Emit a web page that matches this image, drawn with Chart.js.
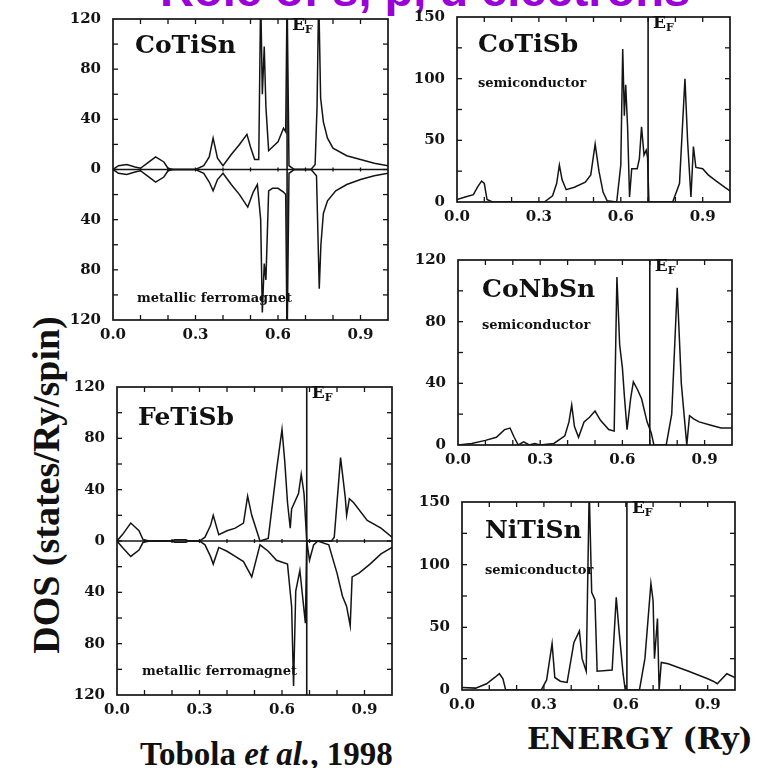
<!DOCTYPE html>
<html><head><meta charset="utf-8">
<script src="https://cdn.jsdelivr.net/npm/chart.js@4"></script>
<style>
html,body{margin:0;padding:0;background:#fff;width:757px;height:768px;overflow:hidden;position:relative}
.panel{position:absolute}
.t{position:absolute;white-space:nowrap;line-height:1;color:#111}
.name{font:bold 25px "DejaVu Serif"}
.small{font:bold 13px "DejaVu Serif"}
.ef{font:bold 17px "DejaVu Serif"}
.ef sub{font-size:11px;vertical-align:-3px}
#title{position:absolute;left:160px;top:-33px;font:bold 47px "Liberation Sans";color:#9a00d8;white-space:nowrap;line-height:46px}
#ytitle{position:absolute;left:-156px;top:465px;width:400px;height:40px;line-height:40px;text-align:center;font:bold 38px "Liberation Serif";color:#111;transform:rotate(-90deg);white-space:nowrap}
#tobola{position:absolute;left:140px;top:738px;font:bold 33px "Liberation Serif";color:#111;line-height:1;white-space:nowrap}
#energy{position:absolute;left:527px;top:724px;font:bold 30px "DejaVu Serif";color:#111;line-height:1;white-space:nowrap}
</style></head><body>
<div id="title">Role of s, p, d electrons</div>
<div id="ytitle">DOS (states/Ry/spin)</div>
<div id="tobola">Tobola <i>et al.</i>, 1998</div>
<div id="energy">ENERGY (Ry)</div>
<script>
// ---- tick labels ----
const xTickValues = [0, 0.3, 0.6, 0.9];
const xTickLabels = ['0.0', '0.3', '0.6', '0.9'];
const yTicksSpin = [-120, -80, -40, 0, 40, 80, 120];
const yTicks120 = [0, 40, 80, 120];
const yTicks150 = [0, 50, 100, 150];

// ---- Fermi energies (Ry) ----
const efCoTiSn = 0.633;
const efFeTiSb = 0.69;
const efCoTiSb = 0.70;
const efCoNbSn = 0.70;
const efNiTiSn = 0.604;

// ---- CoTiSn (spin up / spin down) ----
const coTiSnUpE = [0,0.02,0.05,0.08,0.10,0.125,0.155,0.185,0.20,0.22,0.30,0.33,0.35,0.364,0.38,0.40,0.43,0.46,0.487,0.50,0.515,0.53,0.537,0.543,0.55,0.556,0.566,0.58,0.60,0.62,0.628,0.633,0.64,0.66,0.72,0.735,0.742,0.748,0.755,0.765,0.78,0.80,0.85,0.90,0.95,1.0];
const coTiSnUpDos = [0,3,4,2,1,5,10,6,1,0,0,3,10,25,9,3,12,20,28,18,8,8,140,60,98,50,15,18,22,33,30,140,3,0,0,4,50,140,57,38,25,17,11,8,5,3];
const coTiSnDnE = [0,0.02,0.05,0.08,0.10,0.125,0.155,0.185,0.20,0.22,0.30,0.33,0.35,0.364,0.38,0.40,0.43,0.46,0.49,0.51,0.525,0.537,0.543,0.55,0.556,0.566,0.58,0.60,0.62,0.628,0.633,0.64,0.66,0.72,0.74,0.75,0.756,0.765,0.78,0.81,0.85,0.90,0.95,1.0];
const coTiSnDnDos = [0,-3,-4,-2,-1,-5,-10,-6,-1,0,0,-3,-10,-17,-8,-3,-12,-20,-30,-18,-12,-40,-114,-75,-88,-17,-15,-15,-18,-20,-140,-3,0,0,-5,-95,-60,-35,-25,-17,-12,-8,-5,-3];

// ---- FeTiSb (spin up / spin down) ----
const feTiSbUpE = [0,0.02,0.05,0.08,0.095,0.12,0.20,0.21,0.25,0.26,0.30,0.32,0.34,0.35,0.37,0.40,0.43,0.46,0.475,0.49,0.52,0.55,0.58,0.60,0.61,0.62,0.63,0.635,0.66,0.67,0.68,0.69,0.78,0.79,0.813,0.83,0.835,0.845,0.86,0.91,0.96,1.0];
const feTiSbUpDos = [0,5,14,8,1,0,0,1,1,0,0,3,12,20,5,8,10,14,35,20,0,2,55,87,62,30,10,25,37,52,37,0,0,3,65,34,20,33,30,16,10,3];
const feTiSbDnE = [0,0.02,0.05,0.08,0.095,0.12,0.20,0.21,0.25,0.26,0.30,0.32,0.34,0.35,0.37,0.40,0.43,0.46,0.49,0.52,0.55,0.58,0.62,0.635,0.642,0.65,0.665,0.685,0.69,0.70,0.715,0.73,0.77,0.80,0.82,0.835,0.848,0.855,0.88,0.92,0.96,1.0];
const feTiSbDnDos = [0,-5,-12,-7,-1,0,0,-1,-1,0,0,-3,-12,-18,-5,-8,-12,-16,-28,-3,-8,-15,-18,-51,-113,-39,-23,-64,0,-15,-3,0,-3,-25,-43,-51,-66,-28,-25,-18,-10,-5];

// ---- CoTiSb ----
const coTiSbE = [0,0.03,0.06,0.075,0.09,0.10,0.11,0.13,0.32,0.35,0.365,0.375,0.385,0.40,0.43,0.47,0.49,0.506,0.52,0.535,0.55,0.585,0.60,0.607,0.613,0.618,0.625,0.632,0.64,0.66,0.668,0.676,0.685,0.693,0.698,0.703,0.79,0.815,0.835,0.845,0.857,0.866,0.875,0.90,0.92,0.95,0.98,1.0];
const coTiSbDos = [2,4,6,12,17,15,2,0,0,5,15,30,18,10,12,16,22,47,25,8,1,0,30,124,70,95,60,4,27,27,35,61,38,42,36,0,0,15,100,48,4,45,28,27,22,17,12,9];

// ---- CoNbSn ----
const coNbSnE = [0,0.05,0.10,0.14,0.17,0.19,0.205,0.22,0.24,0.26,0.28,0.30,0.35,0.39,0.405,0.415,0.425,0.44,0.46,0.48,0.50,0.52,0.55,0.57,0.58,0.59,0.60,0.608,0.617,0.63,0.64,0.655,0.67,0.69,0.705,0.715,0.76,0.78,0.80,0.815,0.835,0.845,0.86,0.88,0.92,0.96,1.0];
const coNbSnDos = [0,1,3,5,10,11,5,0,2,0,1,0,1,6,15,26,12,5,15,18,22,16,10,9,109,65,50,30,10,30,41,36,30,15,8,0,0,20,102,40,0,19,17,15,13,11,11];

// ---- NiTiSn ----
const niTiSnE = [0,0.05,0.09,0.12,0.137,0.15,0.16,0.29,0.31,0.33,0.34,0.36,0.385,0.41,0.43,0.44,0.455,0.466,0.475,0.487,0.495,0.55,0.565,0.575,0.59,0.598,0.65,0.67,0.692,0.70,0.705,0.716,0.722,0.73,0.755,0.83,0.90,0.92,0.935,0.97,1.0];
const niTiSnDos = [2,1.5,5,10,13,9,0,0,8,37,10,7,6,38,47,25,15,160,78,72,15,16,74,48,13,0,0,25,85,71,25,57,0,22,21,15,9,7,5,13,10];

const zip = (xs, ys) => xs.map((x, i) => ({x: x, y: ys[i]}));

const panels = [
  {name:'CoTiSn', note:'metallic ferromagnet', left:113, top:10, right:388, bottom:320, ymin:-120, ymax:120, yTicks:yTicksSpin, minor:20, ef:efCoTiSn, spin:true,
   series:[[coTiSnUpE,coTiSnUpDos],[coTiSnDnE,coTiSnDnDos]], nameAt:[135,30], noteAt:[137,290]},
  {name:'FeTiSb', note:'metallic ferromagnet', left:117, top:378, right:392, bottom:695, ymin:-120, ymax:120, yTicks:yTicksSpin, minor:20, ef:efFeTiSb, spin:true,
   series:[[feTiSbUpE,feTiSbUpDos],[feTiSbDnE,feTiSbDnDos]], nameAt:[138,402], noteAt:[142,663]},
  {name:'CoTiSb', note:'semiconductor', left:457, top:8, right:730, bottom:202, ymin:0, ymax:150, yTicks:yTicks150, minor:25, ef:efCoTiSb, spin:false,
   series:[[coTiSbE,coTiSbDos]], nameAt:[478,29], noteAt:[478,75]},
  {name:'CoNbSn', note:'semiconductor', left:458, top:251, right:732, bottom:445, ymin:0, ymax:120, yTicks:yTicks120, minor:20, ef:efCoNbSn, spin:false,
   series:[[coNbSnE,coNbSnDos]], nameAt:[482,274], noteAt:[482,317]},
  {name:'NiTiSn', note:'semiconductor', left:462, top:493, right:735, bottom:690, ymin:0, ymax:150, yTicks:yTicks150, minor:25, ef:efNiTiSn, spin:false,
   series:[[niTiSnE,niTiSnDos]], nameAt:[485,515], noteAt:[485,562]}
];

const INK = '#141414';
const PADL = 50, PADT = 12, PADR = 6, XAXH = 24;

const framePlugin = {
  id: 'frame',
  afterDatasetsDraw(chart, args, opts) {
    const {ctx, chartArea: a, scales} = chart;
    const p = opts.panel;
    ctx.save();
    ctx.strokeStyle = INK;
    ctx.lineWidth = 1.3;
    if (p.spin) {
      const y0 = scales.y.getPixelForValue(0);
      ctx.beginPath(); ctx.moveTo(a.left, y0); ctx.lineTo(a.right, y0); ctx.stroke();
      for (let k = 1; k < 10; k++) {
        const x = scales.x.getPixelForValue(k / 10);
        ctx.beginPath(); ctx.moveTo(x, y0 - 2); ctx.lineTo(x, y0 + 2); ctx.stroke();
      }
    }
    const tl = 5;
    for (let k = 1; k < 10; k++) {
      const x = scales.x.getPixelForValue(k / 10);
      ctx.beginPath(); ctx.moveTo(x, a.bottom); ctx.lineTo(x, a.bottom - tl); ctx.stroke();
      ctx.beginPath(); ctx.moveTo(x, a.top); ctx.lineTo(x, a.top + tl); ctx.stroke();
    }
    for (let v = p.ymin + p.minor; v < p.ymax; v += p.minor) {
      const y = scales.y.getPixelForValue(v);
      ctx.beginPath(); ctx.moveTo(a.left, y); ctx.lineTo(a.left + tl, y); ctx.stroke();
      ctx.beginPath(); ctx.moveTo(a.right, y); ctx.lineTo(a.right - tl, y); ctx.stroke();
    }
    ctx.lineWidth = 1.7;
    ctx.strokeRect(a.left, a.top, a.right - a.left, a.bottom - a.top);
    ctx.restore();
  }
};

const tickFont = {family: 'DejaVu Serif', weight: 'bold', size: 15};

panels.forEach(p => {
  const w = p.right - p.left, h = p.bottom - p.top;
  const box = document.createElement('div');
  box.className = 'panel';
  box.style.left = (p.left - PADL) + 'px';
  box.style.top = (p.top - PADT) + 'px';
  const cw = w + PADL + PADR, ch = h + PADT + XAXH;
  box.style.width = cw + 'px'; box.style.height = ch + 'px';
  const cv = document.createElement('canvas');
  cv.width = cw; cv.height = ch;
  cv.style.width = cw + 'px'; cv.style.height = ch + 'px';
  box.appendChild(cv);
  document.body.appendChild(box);

  const datasets = p.series.map(s => ({
    data: zip(s[0], s[1]), borderColor: INK, borderWidth: 1.5, pointRadius: 0, tension: 0, fill: false
  }));
  datasets.push({data: [{x: p.ef, y: p.ymin}, {x: p.ef, y: p.ymax}], borderColor: INK, borderWidth: 1.6, pointRadius: 0, fill: false});

  new Chart(cv, {
    type: 'line',
    data: {datasets: datasets},
    options: {
      responsive: false, animation: false,
      layout: {padding: {top: PADT, right: PADR, left: 0, bottom: 0}},
      plugins: {legend: {display: false}, tooltip: {enabled: false}, frame: {panel: p}},
      scales: {
        x: {
          type: 'linear', min: 0, max: 1,
          grid: {display: false, drawTicks: false}, border: {display: false},
          afterBuildTicks: s => { s.ticks = xTickValues.map(v => ({value: v})); },
          ticks: {callback: (v, i) => xTickLabels[i], font: tickFont, color: INK, padding: 6, maxRotation: 0, autoSkip: false},
          afterFit: s => { s.height = XAXH; }
        },
        y: {
          type: 'linear', min: p.ymin, max: p.ymax,
          grid: {display: false, drawTicks: false}, border: {display: false},
          afterBuildTicks: s => { s.ticks = p.yTicks.map(v => ({value: v})); },
          ticks: {callback: v => String(Math.abs(v)), font: tickFont, color: INK, padding: 12, autoSkip: false},
          afterFit: s => { s.width = PADL; }
        }
      }
    },
    plugins: [framePlugin]
  });

  const nm = document.createElement('div');
  nm.className = 't name'; nm.textContent = p.name;
  nm.style.left = p.nameAt[0] + 'px'; nm.style.top = p.nameAt[1] + 'px';
  document.body.appendChild(nm);

  const nt = document.createElement('div');
  nt.className = 't small'; nt.textContent = p.note;
  nt.style.left = p.noteAt[0] + 'px'; nt.style.top = p.noteAt[1] + 'px';
  document.body.appendChild(nt);

  const ef = document.createElement('div');
  ef.className = 't ef'; ef.innerHTML = 'E<sub>F</sub>';
  ef.style.left = (p.left + p.ef * w + 5) + 'px'; ef.style.top = (p.top + 4) + 'px';
  document.body.appendChild(ef);
});
</script>
</body></html>
